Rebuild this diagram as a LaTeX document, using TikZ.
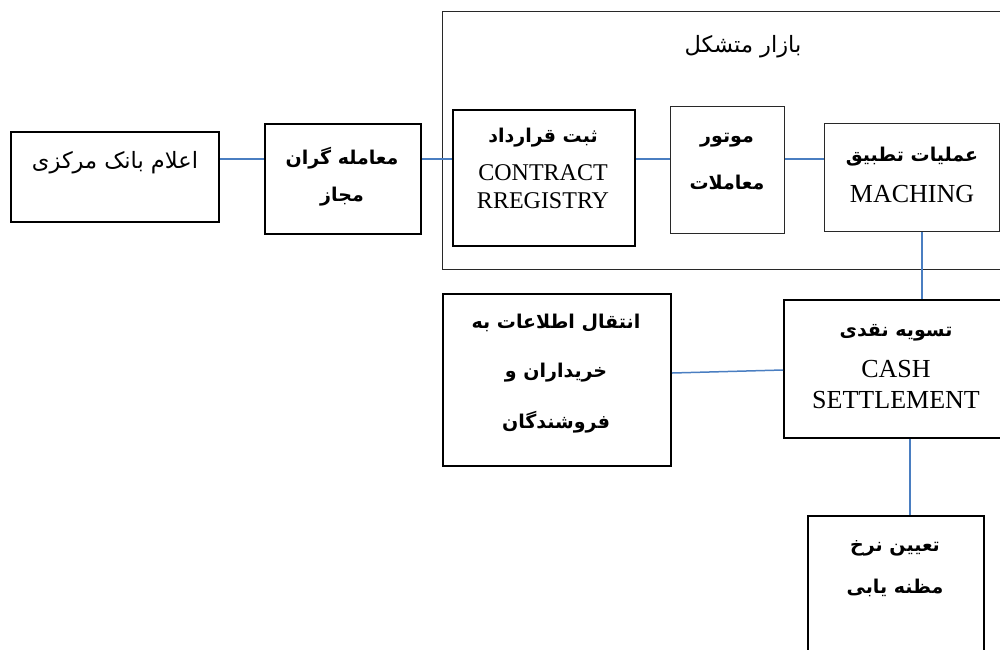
\documentclass[tikz,border=0pt]{standalone}
\usepackage{fontspec}
\setmainfont{Liberation Serif}
\newfontfamily\fa[Script=Arabic]{DejaVu Sans}
\TeXXeTstate=1
\definecolor{linkblue}{RGB}{74,126,193}
\definecolor{thinline}{RGB}{40,40,40}
\tikzset{
  box/.style={draw=black, line width=2pt, inner sep=0pt, anchor=north west},
  thinbox/.style={draw=thinline, line width=1.1pt, inner sep=0pt, anchor=north west},
  link/.style={draw=linkblue, line width=1.5pt},
  fab/.style={inner sep=0pt, font=\fa\bfseries\fontsize{19}{22}\selectfont},
  far/.style={inner sep=0pt, font=\fa\fontsize{22.5}{26}\selectfont},
  lat/.style={inner sep=0pt, anchor=base, font=\fontsize{#1}{#1}\selectfont},
}
\begin{document}
\begin{tikzpicture}[x=1pt,y=-1pt]
\useasboundingbox (0,0) rectangle (1000,649);
\clip (0,0) rectangle (1000,649);
% boxes
\node[thinbox, minimum width=580pt, minimum height=258pt] (big) at (442,11) {};
\node[box, minimum width=208pt, minimum height=90pt] (A) at (10,131) {};
\node[box, minimum width=156pt, minimum height=110pt] (B) at (264,123) {};
\node[box, minimum width=182pt, minimum height=136pt] (C) at (452,109) {};
\node[thinbox, minimum width=114pt, minimum height=127pt] (D) at (670,106) {};
\node[thinbox, minimum width=175pt, minimum height=108pt] (E) at (824,123) {};
\node[box, minimum width=228pt, minimum height=172pt] (F) at (442,293) {};
\node[box, minimum width=226pt, minimum height=138pt] (G) at (783,299) {};
\node[box, minimum width=176pt, minimum height=160pt] (H) at (807,515) {};
% texts
\node[far] (tA) at (115,163) {\beginR اعلام بانک مرکزی\endR};
\node[fab] (tB1) at (342,158) {\beginR معامله گران\endR};
\node[fab] (tB2) at (342,197) {\beginR مجاز\endR};
\node[far] (tbig) at (743,47) {\beginR بازار متشکل\endR};
\node[fab] (tC1) at (543,138) {\beginR ثبت قرارداد\endR};
\node[lat=24] (tC2) at (543,180) {CONTRACT};
\node[lat=24] (tC3) at (543,208) {RREGISTRY};
\node[fab] (tD1) at (727,140) {\beginR موتور\endR};
\node[fab] (tD2) at (727,182) {\beginR معاملات\endR};
\node[fab] (tE1) at (912,157) {\beginR عملیات تطبیق\endR};
\node[lat=26] (tE2) at (912,202) {MACHING};
\node[fab] (tF1) at (556,323) {\beginR انتقال اطلاعات به\endR};
\node[fab] (tF2) at (556,373) {\beginR خریداران و\endR};
\node[fab] (tF3) at (556,422) {\beginR فروشندگان\endR};
\node[fab] (tG1) at (896,333) {\beginR تسویه نقدی\endR};
\node[lat=26] (tG2) at (896,377) {CASH};
\node[lat=26] (tG3) at (896,408) {SETTLEMENT};
\node[fab] (tH1) at (895,548) {\beginR تعیین نرخ\endR};
\node[fab] (tH2) at (895,588) {\beginR مظنه یابی\endR};
% connector helpers
\coordinate (rowy) at (0,159);
\coordinate (egx) at (922,0);
\coordinate (ghx) at (910,0);
\coordinate (fy) at (0,373);
\coordinate (gy) at (0,370);
% connectors
\draw[link] (A.east |- rowy) -- (B.west |- rowy);
\draw[link] (B.east |- rowy) -- (C.west |- rowy);
\draw[link] (C.east |- rowy) -- (D.west |- rowy);
\draw[link] (D.east |- rowy) -- (E.west |- rowy);
\draw[link] (E.south -| egx) -- (G.north -| egx);
\draw[link] (F.east |- fy) -- (G.west |- gy);
\draw[link] (G.south -| ghx) -- (H.north -| ghx);
\end{tikzpicture}
\end{document}
